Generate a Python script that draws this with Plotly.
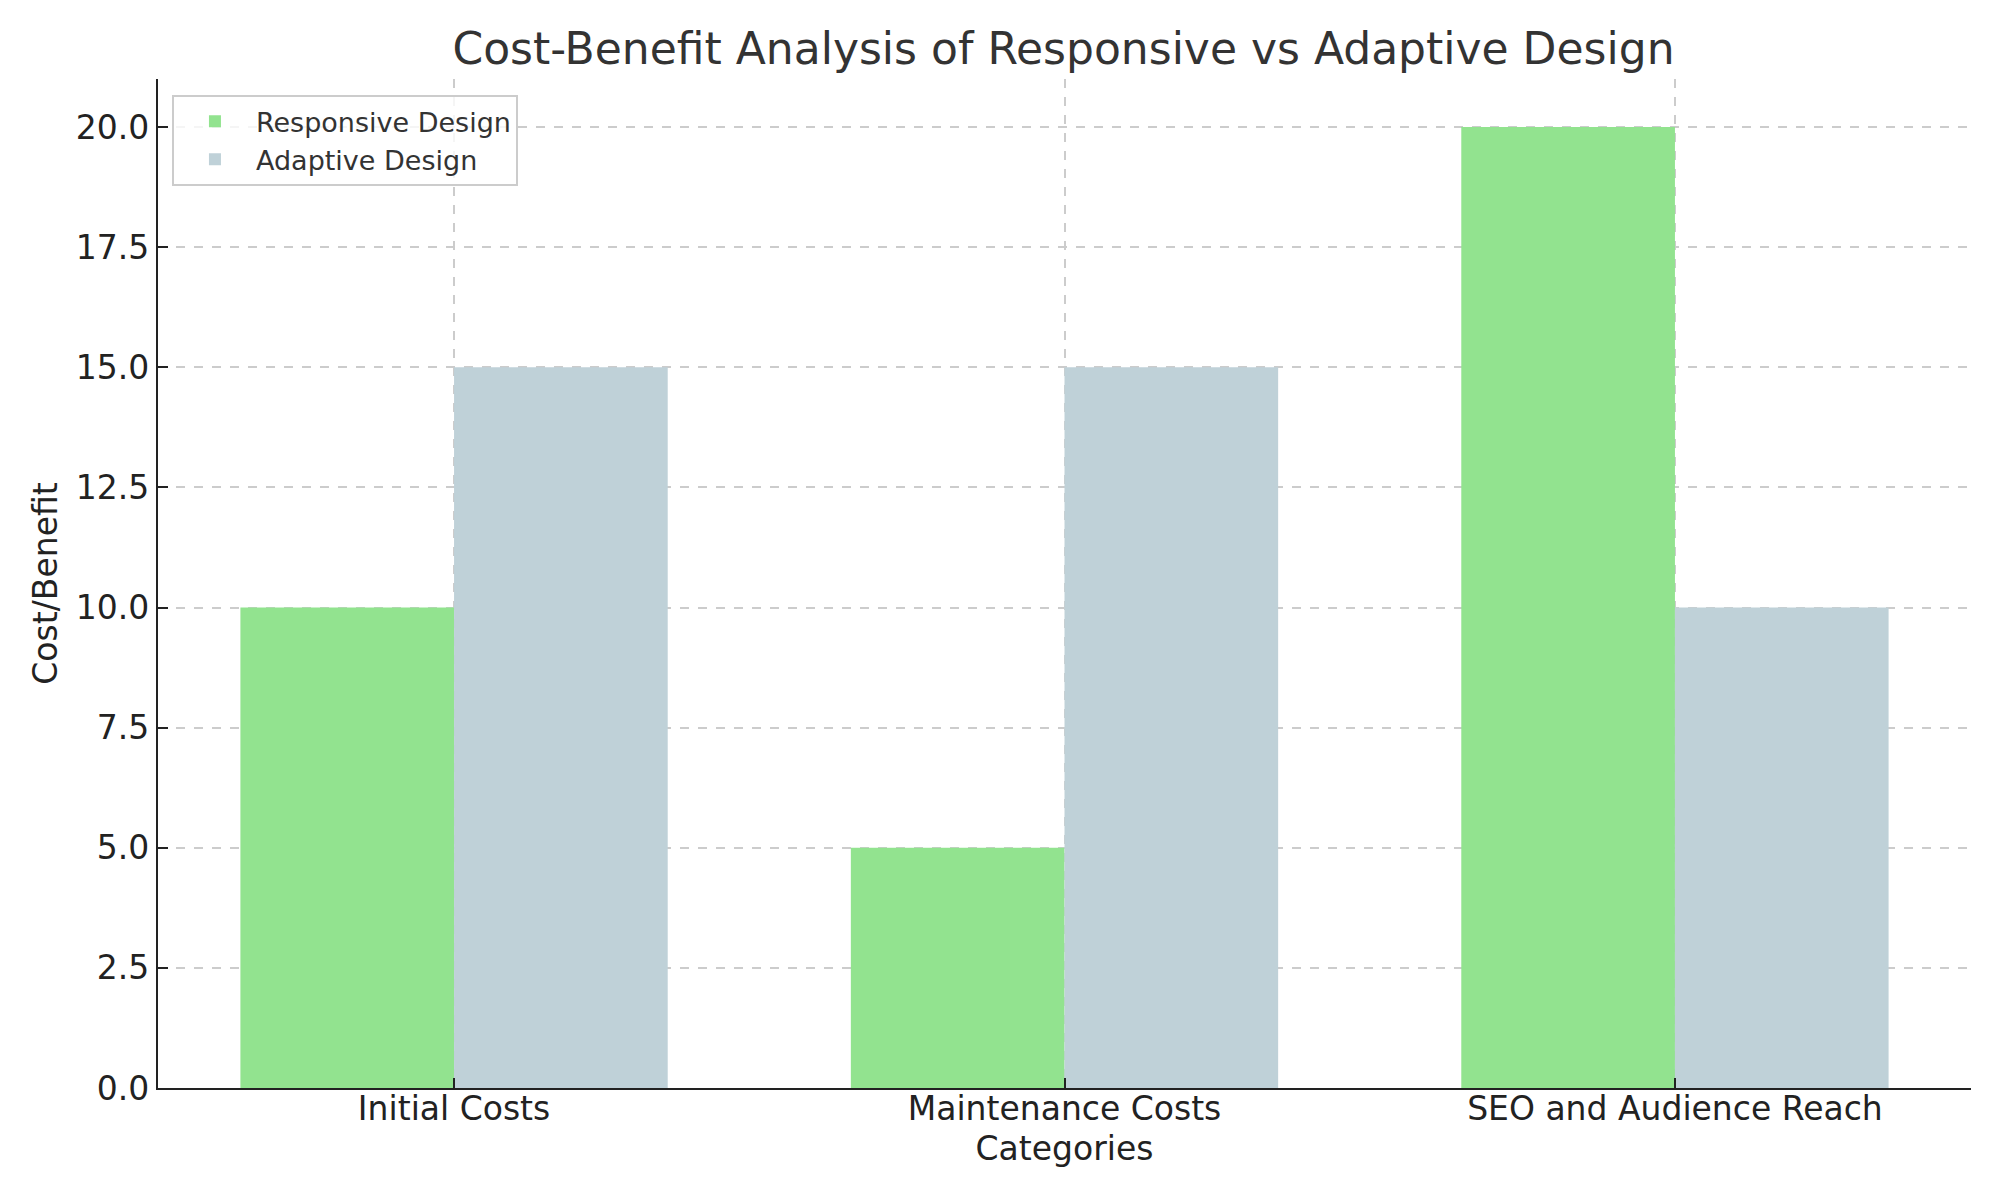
import plotly.graph_objects as go

categories = ["Initial Costs", "Maintenance Costs", "SEO and Audience Reach"]
responsive = [10, 5, 20]
adaptive = [15, 15, 10]
series_names = ["Responsive Design", "Adaptive Design"]
y_ticks = [0, 2.5, 5, 7.5, 10, 12.5, 15, 17.5, 20]
y_tick_labels = ["0.0", "2.5", "5.0", "7.5", "10.0", "12.5", "15.0", "17.5", "20.0"]

FONT = "DejaVu Sans"
W, H = 1984, 1184  # page body has an 8px margin
fig = go.Figure()
fig.add_trace(go.Bar(x=categories, y=responsive, name=series_names[0],
                     marker=dict(color="#92E38F", line=dict(width=0))))
fig.add_trace(go.Bar(x=categories, y=adaptive, name=series_names[1],
                     marker=dict(color="#BFD1D8", line=dict(width=0))))

fig.update_layout(
    width=W, height=H,
    margin=dict(l=150, r=21, t=71, b=104, autoexpand=False),
    paper_bgcolor="white", plot_bgcolor="white",
    barmode="group", bargap=0.3, bargroupgap=0,
    font=dict(family=FONT, size=33, color="#222222"),
    title=dict(text="Cost-Benefit Analysis of Responsive vs Adaptive Design",
               x=0.532, xanchor="center", y=1 - 41 / H, yanchor="middle",
               font=dict(family=FONT, size=44, color="#333333")),
    legend=dict(x=0.0077, y=0.984, xanchor="left", yanchor="top",
                bgcolor="rgba(255,255,255,0.8)", bordercolor="#CCCCCC", borderwidth=2,
                font=dict(family=FONT, size=27, color="#333333"),
                itemwidth=72, tracegroupgap=6),
    showlegend=True,
)
fig.update_xaxes(
    type="category", range=[-0.485, 2.485], automargin=False,
    showline=True, linecolor="#222222", linewidth=2.2, mirror=False,
    ticks="inside", ticklen=10, tickwidth=2, tickcolor="#222222",
    showgrid=True, gridcolor="#CCCCCC", griddash="dash", gridwidth=2,
    layer="above traces", ticklabelstandoff=-10,
    title=dict(text="Categories", font=dict(family=FONT, size=33, color="#222222"), standoff=10),
    tickfont=dict(family=FONT, size=33, color="#222222"),
)
fig.update_yaxes(
    range=[0, 21], tickvals=y_ticks, ticktext=y_tick_labels, automargin=False,
    showline=True, linecolor="#222222", linewidth=2.2, mirror=False,
    ticks="inside", ticklen=10, tickwidth=2, tickcolor="#222222",
    showgrid=True, gridcolor="#CCCCCC", griddash="dash", gridwidth=2,
    zeroline=False, layer="above traces",
    title=dict(text="Cost/Benefit", font=dict(family=FONT, size=33, color="#222222"), standoff=8),
    tickfont=dict(family=FONT, size=33, color="#222222"),
)
fig.write_html("out.html")
